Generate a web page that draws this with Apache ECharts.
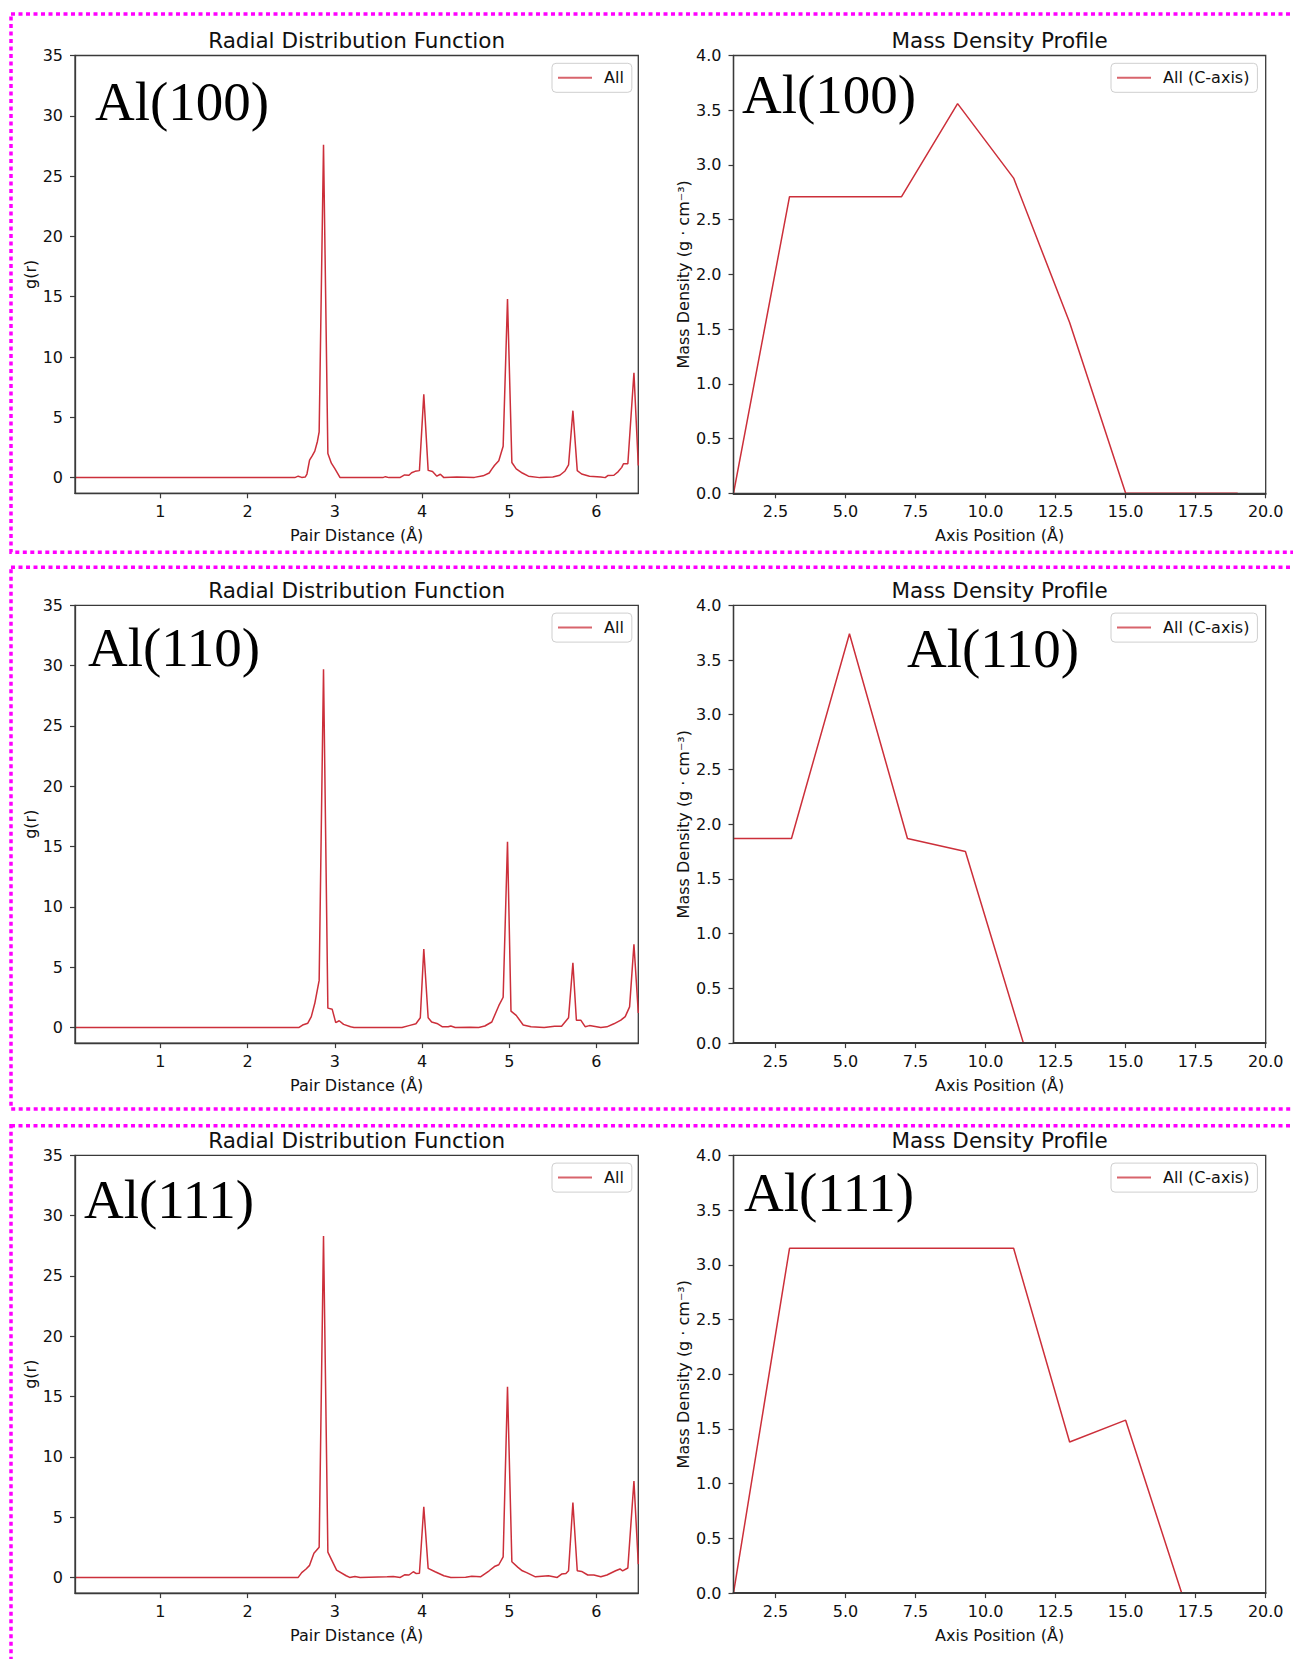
<!DOCTYPE html>
<html><head><meta charset="utf-8">
<script src="https://cdn.jsdelivr.net/npm/echarts@6/dist/echarts.min.js"></script>
<style>html,body{margin:0;padding:0;background:#fff}#c{width:1293px;height:1659px}</style>
</head><body><div id="c"></div>
<script>
// ---------------- DATA ----------------
const surfaceLabels = ['Al(100)', 'Al(110)', 'Al(111)'];
const rdfTitle = 'Radial Distribution Function';
const mdTitle = 'Mass Density Profile';
const rdfSeriesName = 'All';
const mdSeriesName = 'All (C-axis)';

// Radial distribution function g(r), Al(100)
const rdfX100 = [0.02,2.54,2.58,2.62,2.66,2.68,2.71,2.74,2.77,2.80,2.82,2.87,2.92,2.96,3.00,3.06,3.55,3.58,3.62,3.75,3.80,3.85,3.88,3.92,3.97,4.02,4.07,4.12,4.17,4.21,4.25,4.40,4.60,4.70,4.77,4.80,4.83,4.88,4.93,4.98,5.03,5.08,5.15,5.22,5.35,5.50,5.58,5.64,5.68,5.73,5.78,5.83,5.92,6.05,6.10,6.13,6.20,6.25,6.29,6.31,6.36,6.43,6.48];
const rdfY100 = [0,0,0.12,0.02,0.05,0.3,1.45,1.8,2.2,3.0,3.8,27.6,2.0,1.2,0.75,0,0,0.08,0,0.02,0.22,0.2,0.4,0.52,0.58,6.9,0.6,0.5,0.12,0.28,0,0.05,0.02,0.15,0.38,0.7,1.0,1.4,2.6,14.8,1.25,0.72,0.38,0.12,0,0.05,0.2,0.55,1.05,5.55,0.58,0.3,0.12,0.05,0,0.17,0.2,0.5,0.85,1.15,1.15,8.7,1.0];
// Al(110)
const rdfX110 = [0.02,2.59,2.63,2.69,2.73,2.77,2.82,2.87,2.92,2.97,3.01,3.05,3.10,3.18,3.22,3.77,3.85,3.93,3.98,4.02,4.07,4.11,4.18,4.23,4.30,4.33,4.38,4.55,4.65,4.72,4.80,4.88,4.93,4.98,5.02,5.08,5.16,5.25,5.40,5.52,5.60,5.68,5.73,5.77,5.82,5.87,5.92,6.05,6.12,6.20,6.28,6.33,6.38,6.43,6.48];
const rdfY110 = [0,0,0.2,0.35,0.9,2.0,3.9,29.7,1.6,1.5,0.4,0.55,0.25,0.05,0,0,0.15,0.3,0.8,6.5,0.8,0.45,0.3,0.06,0.05,0.12,0,0.02,0,0.12,0.45,1.8,2.5,15.4,1.35,1.0,0.2,0.05,0,0.1,0.1,0.8,5.35,0.6,0.6,0.06,0.15,0,0.05,0.3,0.6,0.9,1.7,6.9,1.2];
// Al(111)
const rdfX111 = [0.02,2.58,2.62,2.67,2.71,2.76,2.82,2.87,2.92,2.96,3.02,3.13,3.17,3.23,3.29,3.60,3.67,3.75,3.80,3.85,3.90,3.93,3.97,4.02,4.07,4.15,4.25,4.33,4.50,4.57,4.67,4.77,4.83,4.88,4.93,4.98,5.03,5.10,5.15,5.20,5.30,5.45,5.55,5.60,5.65,5.68,5.73,5.78,5.83,5.90,5.97,6.05,6.12,6.22,6.27,6.30,6.36,6.43,6.48];
const rdfY111 = [0,0,0.4,0.7,1.0,2.0,2.5,28.3,2.1,1.5,0.6,0.14,0,0.08,0,0.05,0.08,0,0.22,0.2,0.47,0.33,0.35,5.85,0.75,0.47,0.14,0,0.02,0.1,0.05,0.55,0.9,1.05,1.7,15.8,1.3,0.83,0.55,0.4,0.05,0.14,0,0.28,0.33,0.55,6.2,0.55,0.5,0.2,0.2,0.05,0.2,0.55,0.7,0.55,0.78,8.0,1.1];

// Mass density profiles (g/cm^3) along the C axis
const mdX100 = [1,3,5,7,9,11,13,15,17,19];
const mdY100 = [0,2.71,2.71,2.71,3.56,2.88,1.56,0,0,0];
const mdX110 = [1,3.07,5.14,7.21,9.28,11.35,13.42,15.49,17.56,19.63];
const mdY110 = [1.87,1.87,3.74,1.87,1.75,0,0,0,0,0];
const mdX111 = [1,3,5,7,9,11,13,15,17,19];
const mdY111 = [0,3.15,3.15,3.15,3.15,3.15,1.38,1.58,0,0];

// Tick values
const rdfXTicks = [1,2,3,4,5,6];
const rdfYTicks = [0,5,10,15,20,25,30,35];
const mdXTicks = [2.5,5,7.5,10,12.5,15,17.5,20];
const mdYTicks = [0,0.5,1,1.5,2,2.5,3,3.5,4];

// ---------------- LAYOUT ----------------
const rdfSets = [[rdfX100, rdfY100], [rdfX110, rdfY110], [rdfX111, rdfY111]];
const mdSets = [[mdX100, mdY100], [mdX110, mdY110], [mdX111, mdY111]];
const rowTop = [55.5, 605.3, 1155.3];
const plotH = 437.8;
const LG = {left: 75, width: 563.3};
const RG = {left: 733.5, width: 532.2};
const rowShift = r => rowTop[r] - rowTop[0];
// annotation positions (x, middle y) for each row: [left plot, right plot]
const annPos = [
  [[95, 101.5], [742, 94]],
  [[88, 647], [907, 648]],
  [[84, 1199], [744, 1192]]
];
const FONT = '"DejaVu Sans", "Noto Sans", sans-serif';
const AXC = '#3a3a3a';
const LINEC = '#cc2f3a';

const pairs = (xs, ys) => xs.map((x, i) => [x, ys[i]]);

const grids = [], xAxes = [], yAxes = [], series = [], legends = [], graphics = [];

function axisCommon(ticks, fmt, lw) {
  return {
    z: 5,
    axisLine: {show: true, onZero: false, lineStyle: {color: AXC, width: lw || 1.3}},
    axisTick: {show: true, inside: false, length: 5, customValues: ticks, lineStyle: {color: AXC, width: 1.2}},
    axisLabel: {show: true, customValues: ticks, color: '#111', fontSize: 16, fontFamily: FONT, formatter: fmt},
    splitLine: {show: false},
    nameTextStyle: {color: '#111', fontSize: 16, fontFamily: FONT}
  };
}

for (let r = 0; r < 3; r++) {
  const top = rowTop[r];
  grids.push({left: LG.left, top: top, width: LG.width, height: plotH, show: true, borderColor: AXC, borderWidth: 1.3, backgroundColor: '#fff', outerBoundsMode: 'none', containLabel: false});
  grids.push({left: RG.left, top: top, width: RG.width, height: plotH, show: true, borderColor: AXC, borderWidth: 1.3, backgroundColor: '#fff', outerBoundsMode: 'none', containLabel: false});
  const gi = 2 * r;
  // RDF axes
  const xa = axisCommon(rdfXTicks, v => String(v));
  xAxes.push(Object.assign(xa, {type: 'value', gridIndex: gi, min: 0.02, max: 6.48,
    name: 'Pair Distance (Å)', nameLocation: 'middle', nameGap: 34}));
  xa.axisLabel.margin = 10;
  const ya = axisCommon(rdfYTicks, v => String(v));
  yAxes.push(Object.assign(ya, {type: 'value', gridIndex: gi, min: -1.3, max: 35,
    name: 'g(r)', nameLocation: 'middle', nameGap: 34.5, nameRotate: 90}));
  ya.axisLabel.margin = 12;
  // MD axes
  const xb = axisCommon(mdXTicks, v => v.toFixed(1), 1.8);
  xAxes.push(Object.assign(xb, {type: 'value', gridIndex: gi + 1, min: 1, max: 20,
    name: 'Axis Position (Å)', nameLocation: 'middle', nameGap: 34}));
  xb.axisLabel.margin = 10;
  const yb = axisCommon(mdYTicks, v => v.toFixed(1));
  yAxes.push(Object.assign(yb, {type: 'value', gridIndex: gi + 1, min: 0, max: 4,
    name: 'Mass Density (g · cm⁻³)', nameLocation: 'middle', nameGap: 42.5, nameRotate: 90}));
  yb.axisLabel.margin = 12;

  series.push({type: 'line', name: rdfSeriesName, xAxisIndex: gi, yAxisIndex: gi,
    data: pairs(rdfSets[r][0], rdfSets[r][1]), showSymbol: false, symbol: 'none',
    lineStyle: {color: LINEC, width: 1.5}, itemStyle: {color: LINEC}, clip: true, z: 2});
  series.push({type: 'line', name: mdSeriesName, xAxisIndex: gi + 1, yAxisIndex: gi + 1,
    data: pairs(mdSets[r][0], mdSets[r][1]), showSymbol: false, symbol: 'none',
    lineStyle: {color: LINEC, width: 1.5}, itemStyle: {color: LINEC}, clip: true, z: 2});

  const legendCommon = {
    orient: 'vertical', icon: 'rect', itemWidth: 34, itemHeight: 2,
    padding: [6.5, 8, 6.5, 6], backgroundColor: '#fff', borderColor: '#cfcfcf', borderWidth: 1, borderRadius: 4,
    itemStyle: {color: '#d8646c'},
    textStyle: {color: '#111', fontSize: 16, fontFamily: FONT, padding: [0, 0, 0, 7]},
    selectedMode: false
  };
  legends.push(Object.assign({}, legendCommon, {left: 552, top: 63.3 + rowShift(r), data: [rdfSeriesName]}));
  legends.push(Object.assign({}, legendCommon, {left: 1111, top: 63.3 + rowShift(r), data: [mdSeriesName]}));

  // subplot titles
  graphics.push({type: 'text', x: LG.left + LG.width / 2, y: 40.3 + rowShift(r), silent: true,
    style: {text: rdfTitle, fill: '#111', font: '21.5px ' + FONT, textAlign: 'center', textVerticalAlign: 'middle'}});
  graphics.push({type: 'text', x: RG.left + RG.width / 2, y: 40.3 + rowShift(r), silent: true,
    style: {text: mdTitle, fill: '#111', font: '21.5px ' + FONT, textAlign: 'center', textVerticalAlign: 'middle'}});
  // big surface labels
  for (let k = 0; k < 2; k++) {
    graphics.push({type: 'text', x: annPos[r][k][0], y: annPos[r][k][1], silent: true, z: 10,
      style: {text: surfaceLabels[r], fill: '#000', font: '55px "Liberation Serif", "DejaVu Serif", serif', textAlign: 'left', textVerticalAlign: 'middle'}});
  }
}

// magenta dotted frames
const frames = [[14, 538.3], [567.3, 541.7], [1125.8, 600]];
frames.forEach(f => graphics.push({type: 'rect', silent: true, z: 20,
  shape: {x: 11, y: f[0], width: 1400, height: f[1]},
  style: {fill: 'none', stroke: '#ff00ff', lineWidth: 3.5, lineDash: [4, 3.5]}}));

const chart = echarts.init(document.getElementById('c'), null, {renderer: 'svg', width: 1293, height: 1659});
chart.setOption({
  animation: false,
  backgroundColor: '#fff',
  textStyle: {fontFamily: FONT},
  grid: grids, xAxis: xAxes, yAxis: yAxes, series: series, legend: legends,
  graphic: {elements: graphics}
});
</script></body></html>
